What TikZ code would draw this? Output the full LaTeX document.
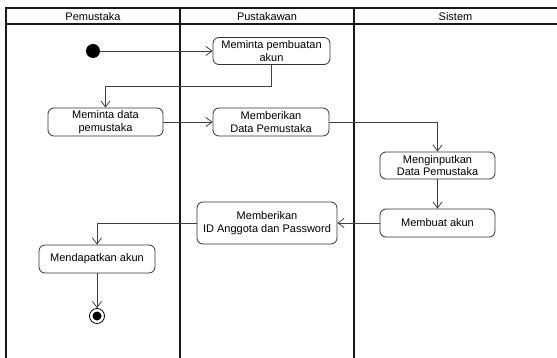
\documentclass[tikz,border=0pt]{standalone}
\usepackage{fontspec}
\setmainfont{Liberation Sans}
\usetikzlibrary{arrows.meta}
\begin{document}
\begin{tikzpicture}[x=1pt,y=-1pt,
  lane/.style={line width=1.4pt,draw=black!90},
  act/.style={draw=black!80,line width=0.8pt,rounded corners=6pt,fill=white,
    align=center,inner sep=1pt,font=\fontsize{11}{12.5}\selectfont},
  flow/.style={draw=black!75,line width=0.8pt,
    -{Straight Barb[length=6pt,width=9pt,line width=0.8pt]}},
  head/.style={font=\fontsize{11}{12.5}\selectfont}]
\useasboundingbox (0,0) rectangle (557,358);
% swimlane frame
\draw[lane] (6,358) -- (6,8) -- (557,8);
\draw[lane] (6,24) -- (557,24);
\draw[lane] (180,8) -- (180,358);
\draw[lane] (354,8) -- (354,358);
\node[head] (h1) at (93,16.5) {Pemustaka};
\node[head] (h2) at (267,16.5) {Pustakawan};
\node[head] (h3) at (455.5,16.5) {Sistem};
% activities
\node[act,minimum width=117pt,minimum height=27pt] (n1) at (271.5,51) {Meminta pembuatan\\akun};
\node[act,minimum width=115pt,minimum height=28pt] (n2) at (105.5,122) {Meminta data\\pemustaka};
\node[act,minimum width=116pt,minimum height=28pt] (n3) at (271,122) {Memberikan\\Data Pemustaka};
\node[act,minimum width=115pt,minimum height=27pt] (n4) at (437.5,165.5) {Menginputkan\\Data Pemustaka};
\node[act,minimum width=115pt,minimum height=28pt] (n5) at (437.5,223) {Membuat akun};
\node[act,minimum width=140pt,minimum height=42pt] (n6) at (267,223) {Memberikan\\ID Anggota dan Password};
\node[act,minimum width=116pt,minimum height=28pt] (n7) at (97,259) {Mendapatkan akun};
% start and end
\node[circle,fill=black,minimum size=14pt,inner sep=0pt] (start) at (93,51) {};
\node[circle,draw=black,line width=0.8pt,minimum size=15pt,inner sep=0pt] (stop) at (97,316) {};
\node[circle,fill=black,minimum size=9pt,inner sep=0pt] (stopdot) at (stop) {};
% flows
\draw[flow] (start) -- (n1);
\draw[flow] (n1.south) -- ++(0,22) -| (n2.north);
\draw[flow] (n2) -- (n3);
\draw[flow] (n3.east) -| (n4.north);
\draw[flow] (n4) -- (n5);
\draw[flow] (n5) -- (n6);
\draw[flow] (n6.west) -| (n7.north);
\draw[flow] (n7) -- (stop);
\end{tikzpicture}
\end{document}
